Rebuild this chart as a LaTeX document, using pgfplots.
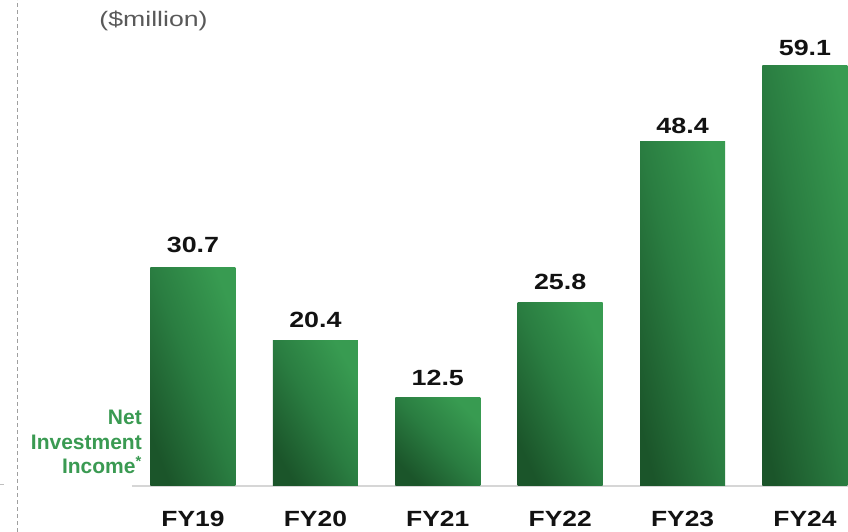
\documentclass[border=0pt]{standalone}
\usepackage{fontspec}
\setmainfont{Liberation Sans}
\usepackage{graphicx}
\usepackage{pgfplots}
\pgfplotsset{compat=1.18}

\definecolor{barlight}{HTML}{389B51}
\definecolor{barmid}{HTML}{2A7D41}
\definecolor{bardark}{HTML}{1B552A}
\definecolor{labgreen}{HTML}{3A9A52}
\definecolor{unitgray}{HTML}{595959}

% one bar per plot: #1 = label offset, #2 = gradient angle (dark bottom-left, light top-right)
\pgfplotsset{
    gbar/.style 2 args={ybar, bar width=85bp, bar shift=0pt, draw=none,
        bottom color=bardark, top color=barlight, middle color=barmid, shading angle=#2,
        nodes near coords style={anchor=base, yshift=#1}},
}

\begin{document}
\begin{tikzpicture}
    \path[use as bounding box] (0,0) rectangle (848bp,532bp);
    % dashed divider on the left
    \draw[gray!75, line width=1bp, dash pattern=on 4bp off 3bp] (17bp,0) -- (17bp,532bp);
    \draw[gray!50, line width=1bp] (0,47bp) -- (4bp,47bp);

    \begin{axis}[
        at={(131.8bp,46bp)},
        anchor=south west,
        scale only axis,
        width=716bp,
        height=486bp,
        xmin=-0.5, xmax=5.35,
        ymin=0, ymax=68.35,
        axis x line*=bottom,
        axis y line=none,
        x axis line style={draw=black!16, line width=2bp, -},
        xtick={0,1,2,3,4,5},
        xticklabels={\scalebox{1.2}[1]{FY19},\scalebox{1.2}[1]{FY20},\scalebox{1.2}[1]{FY21},
                     \scalebox{1.2}[1]{FY22},\scalebox{1.2}[1]{FY23},\scalebox{1.2}[1]{FY24}},
        major tick length=0pt,
        xticklabel style={font=\fontsize{22bp}{24bp}\selectfont\bfseries, text=black!93, anchor=base, yshift=-40bp},
        ytick=\empty,
        clip=false,
        /pgf/number format/assume math mode=true,
        /pgf/number format/fixed,
        /pgf/number format/precision=1,
        /pgf/number format/fixed zerofill,
        nodes near coords={\scalebox{1.22}[1]{\pgfmathprintnumber{\pgfplotspointmeta}}},
        every node near coord/.append style={font=\fontsize{22bp}{24bp}\selectfont\bfseries, text=black!93},
    ]
        \addplot[gbar={15bp}{-68.7}] coordinates {(0,30.7)};
        \addplot[gbar={13bp}{-59.6}] coordinates {(1,20.4)};
        \addplot[gbar={12bp}{-46.3}] coordinates {(2,12.5)};
        \addplot[gbar={13bp}{-65.1}] coordinates {(3,25.8)};
        \addplot[gbar={8bp}{-76.1}]  coordinates {(4,48.4)};
        \addplot[gbar={10bp}{-78.6}] coordinates {(5,59.1)};
    \end{axis}

    \node[anchor=base, text=unitgray, font=\fontsize{21bp}{24bp}\selectfont] at (153.5bp,505bp) {\scalebox{1.27}[1]{(\$million)}};
    \node[anchor=base east, text=labgreen, font=\fontsize{21bp}{24bp}\selectfont\bfseries, inner sep=0pt] at (142bp,107bp) {Net};
    \node[anchor=base east, text=labgreen, font=\fontsize{21bp}{24bp}\selectfont\bfseries, inner sep=0pt] at (142bp,82.7bp) {Investment};
    \node[anchor=base east, text=labgreen, font=\fontsize{21bp}{24bp}\selectfont\bfseries, inner sep=0pt] at (142bp,58bp) {Income\textsuperscript{*}};
\end{tikzpicture}
\end{document}
